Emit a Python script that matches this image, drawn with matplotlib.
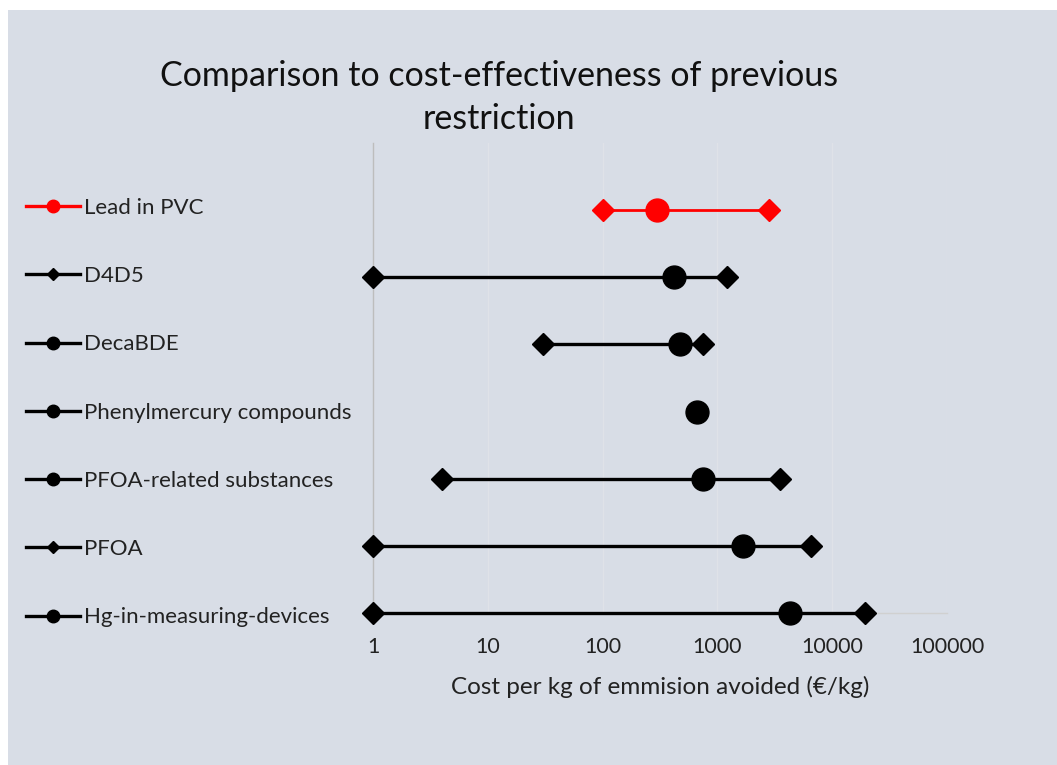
import numpy as np
import matplotlib.pyplot as plt
from matplotlib.lines import Line2D
from matplotlib.patches import Rectangle

plt.rcParams["font.family"] = ["Lato", "DejaVu Sans"]

# data (cost per kg of emission avoided, EUR/kg)
substances = [
    "Lead in PVC",
    "D4D5",
    "DecaBDE",
    "Phenylmercury compounds",
    "PFOA-related substances",
    "PFOA",
    "Hg-in-measuring-devices",
]
cost_low = [100, 1, 30, np.nan, 4, 1, 1]
cost_mid = [300, 420, 470, 660, 750, 1670, 4300]
cost_high = [2800, 1210, 750, np.nan, 3500, 6600, 19500]
legend_markers = ["o", "D", "o", "o", "o", "D", "o"]
series_colors = ["#FF0000", "black", "black", "black", "black", "black", "black"]
x_ticks = [1, 10, 100, 1000, 10000, 100000]

BG = "#D8DDE6"

fig = plt.figure(figsize=(10.57, 7.65), dpi=100)
fig.patch.set_facecolor("white")
fig.patches.append(Rectangle((8 / 1057, 0), 1, 1 - 10 / 765, transform=fig.transFigure,
                             facecolor=BG, edgecolor="none", zorder=-10))

ax = fig.add_axes([373 / 1057, 1 - 613 / 765, (947 - 373) / 1057, (613 - 143) / 765])
ax.set_facecolor("none")

n = len(substances)
ypos = np.arange(n)[::-1]  # first substance at the top

for i, name in enumerate(substances):
    y = ypos[i]
    c = series_colors[i]
    lw = 2.0 if i == 0 else 2.4
    if not np.isnan(cost_low[i]):
        ax.plot([cost_low[i], cost_high[i]], [y, y], color=c, lw=lw, zorder=3, clip_on=False)
        ax.plot([cost_low[i], cost_high[i]], [y, y], ls="none", marker="D", ms=11,
                color=c, zorder=4, clip_on=False)
    ax.plot([cost_mid[i]], [y], ls="none", marker="o", ms=16.5, color=c, zorder=5, clip_on=False)

ax.set_xscale("log")
ax.set_xlim(1, 100000)
ax.set_ylim(0, n)
ax.set_xticks(x_ticks)
ax.set_xticklabels([str(v) for v in x_ticks])
ax.minorticks_off()
ax.set_yticks([])
ax.tick_params(axis="x", length=0, pad=17, labelsize=15.5, colors="#222222")

ax.grid(axis="x", color="#DFE2E8", lw=1, zorder=0)
for s in ["top", "right"]:
    ax.spines[s].set_visible(False)
ax.spines["left"].set_color("#BDBDBD")
ax.spines["left"].set_linewidth(1)
ax.spines["bottom"].set_color("#D0D0D0")
ax.spines["bottom"].set_linewidth(1)

ax.set_xlabel("Cost per kg of emmision avoided (\u20ac/kg)", fontsize=17.5, color="#222222", labelpad=14)

fig.text(499 / 1057, 1 - 76 / 765, "Comparison to cost-effectiveness of previous",
         ha="center", va="center", fontsize=24.5, color="#111111")
fig.text(499 / 1057, 1 - 119 / 765, "restriction",
         ha="center", va="center", fontsize=24.5, color="#111111")

handles = [
    Line2D([], [], color=series_colors[i], lw=2.4, marker=legend_markers[i],
           ms=9 if legend_markers[i] == "o" else 6)
    for i in range(n)
]
fig.legend(handles, substances, loc="upper left", bbox_to_anchor=(26 / 1057, 1 - 198 / 765),
           frameon=False, fontsize=16, handlelength=2.43, handletextpad=0.18,
           labelspacing=2.17, borderpad=0, borderaxespad=0, labelcolor="#222222")

fig.savefig("out.png", dpi=100, facecolor=fig.get_facecolor())
